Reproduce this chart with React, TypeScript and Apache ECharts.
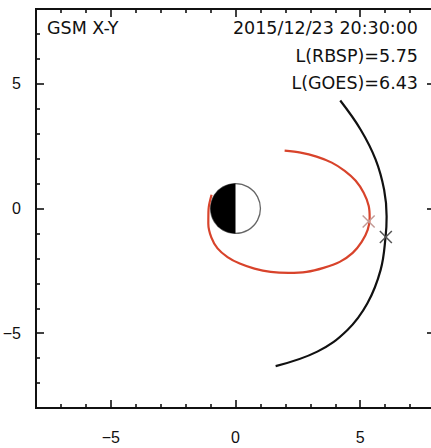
import { useEffect, useRef } from "react";
import * as echarts from "echarts";

// Axis range in Earth radii (GSM X and Y)
const AXIS_MIN = -8;
const AXIS_MAX = 8;
const MAJOR_TICKS = [-5, 0, 5];
const MINOR_TICKS = [-7, -6, -4, -3, -2, -1, 1, 2, 3, 4, 6, 7];

// RBSP orbit trace, GSM [X, Y] in Re
const RBSP_ORBIT: [number, number][] = [
  [1.97, 2.32],
  [2.61, 2.24],
  [3.25, 2.08],
  [3.86, 1.84],
  [4.38, 1.51],
  [4.82, 1.11],
  [5.14, 0.63],
  [5.34, 0.11],
  [5.38, -0.37],
  [5.3, -0.86],
  [5.06, -1.34],
  [4.7, -1.78],
  [4.18, -2.14],
  [3.53, -2.38],
  [2.85, -2.54],
  [2.13, -2.58],
  [1.41, -2.54],
  [0.76, -2.41],
  [0.17, -2.21],
  [-0.32, -1.95],
  [-0.72, -1.6],
  [-0.97, -1.16],
  [-1.09, -0.61],
  [-1.08, -0.02],
  [-0.96, 0.55],
];

// GOES orbit trace, GSM [X, Y] in Re
const GOES_ORBIT: [number, number][] = [
  [4.2, 4.33],
  [5.02, 3.16],
  [5.62, 1.96],
  [5.96, 0.75],
  [6.06, -0.32],
  [6.02, -1.12],
  [5.82, -2.46],
  [5.29, -3.8],
  [4.49, -4.87],
  [3.28, -5.74],
  [1.61, -6.32],
];

// Spacecraft positions at the plotted time
const RBSP_POS: [number, number] = [5.34, -0.52];
const GOES_POS: [number, number] = [6.03, -1.14];

// Earth: centre X, Y and radius (Re)
const EARTH: [number, number, number] = [0, 0, 1];

const TITLE = "GSM X-Y";
const TIME_LABEL = "2015/12/23 20:30:00";
const L_RBSP = 5.75;
const L_GOES = 6.43;

const AXIS_COLOR = "#111";
const TEXT_FONT = '17.5px "DejaVu Sans", sans-serif';
const LABEL_FONT_FAMILY = '"Liberation Sans", Arial, sans-serif';

const fmtTick = (v: number) => (v < 0 ? "\u2212" + Math.abs(v) : String(v));

function makeAxis(
  position: "bottom" | "top" | "left" | "right",
  ticks: number[],
  length: number,
  labels: boolean
) {
  return {
    type: "value",
    position,
    min: AXIS_MIN,
    max: AXIS_MAX,
    splitLine: { show: false },
    axisLine: {
      show: true,
      onZero: false,
      lineStyle: { color: AXIS_COLOR, width: 2 },
    },
    axisTick: {
      show: true,
      inside: true,
      length,
      customValues: ticks,
      lineStyle: { color: AXIS_COLOR, width: 1.6 },
    },
    axisLabel: labels
      ? {
          show: true,
          customValues: MAJOR_TICKS,
          formatter: fmtTick,
          color: "#111",
          fontSize: 16,
          fontFamily: LABEL_FONT_FAMILY,
          margin: position === "bottom" ? 21 : 15,
        }
      : { show: false },
  };
}

export default function App() {
  const ref = useRef<HTMLDivElement>(null);

  useEffect(() => {
    if (!ref.current) return;
    const chart = echarts.init(ref.current, undefined, { renderer: "svg" });

    const cross = (color: string) => (params: any, api: any) => {
      const p = api.coord([api.value(0), api.value(1)]);
      const h = 6;
      const style = { stroke: color, lineWidth: 1.5 };
      return {
        type: "group",
        children: [
          { type: "line", shape: { x1: p[0] - h, y1: p[1] - h, x2: p[0] + h, y2: p[1] + h }, style },
          { type: "line", shape: { x1: p[0] - h, y1: p[1] + h, x2: p[0] + h, y2: p[1] - h }, style },
        ],
      };
    };

    chart.setOption({
      animation: false,
      backgroundColor: "#fff",
      grid: {
        left: 36,
        top: 9,
        width: 399,
        height: 399,
        containLabel: false,
        outerBoundsMode: "none",
      },
      xAxis: [
        makeAxis("bottom", MAJOR_TICKS, 8, true),
        makeAxis("bottom", MINOR_TICKS, 4, false),
        makeAxis("top", MAJOR_TICKS, 8, false),
        makeAxis("top", MINOR_TICKS, 4, false),
      ],
      yAxis: [
        makeAxis("left", MAJOR_TICKS, 8, true),
        makeAxis("left", MINOR_TICKS, 4, false),
        makeAxis("right", MAJOR_TICKS, 8, false),
        makeAxis("right", MINOR_TICKS, 4, false),
      ],
      series: [
        {
          type: "custom",
          name: "Earth",
          z: 1,
          data: [EARTH],
          renderItem: (params: any, api: any) => {
            const c = api.coord([api.value(0), api.value(1)]);
            const r = api.size([api.value(2), api.value(2)])[0];
            return {
              type: "group",
              children: [
                {
                  type: "circle",
                  shape: { cx: c[0], cy: c[1], r },
                  style: { fill: "#fff", stroke: "#666", lineWidth: 1.3 },
                },
                {
                  type: "sector",
                  shape: {
                    cx: c[0],
                    cy: c[1],
                    r0: 0,
                    r,
                    startAngle: Math.PI / 2,
                    endAngle: (Math.PI * 3) / 2,
                    clockwise: true,
                  },
                  style: { fill: "#000" },
                },
              ],
            };
          },
        },
        {
          type: "line",
          name: "RBSP",
          z: 3,
          data: RBSP_ORBIT,
          smooth: 0.3,
          showSymbol: false,
          lineStyle: { color: "#d8432b", width: 2.2 },
        },
        {
          type: "line",
          name: "GOES",
          z: 3,
          data: GOES_ORBIT,
          smooth: 0.4,
          showSymbol: false,
          lineStyle: { color: "#111", width: 2.2 },
        },
        {
          type: "custom",
          name: "RBSP position",
          z: 4,
          data: [RBSP_POS],
          renderItem: cross("#c49a96"),
        },
        {
          type: "custom",
          name: "GOES position",
          z: 4,
          data: [GOES_POS],
          renderItem: cross("#555"),
        },
      ],
      graphic: [
        {
          type: "text",
          x: 47,
          y: 28,
          style: { text: TITLE, font: TEXT_FONT, fill: "#111", verticalAlign: "middle" },
        },
        {
          type: "text",
          x: 418,
          y: 28,
          style: { text: TIME_LABEL, font: TEXT_FONT, fill: "#111", align: "right", verticalAlign: "middle" },
        },
        {
          type: "text",
          x: 418,
          y: 56,
          style: { text: `L(RBSP)=${L_RBSP.toFixed(2)}`, font: TEXT_FONT, fill: "#111", align: "right", verticalAlign: "middle" },
        },
        {
          type: "text",
          x: 418,
          y: 83,
          style: { text: `L(GOES)=${L_GOES.toFixed(2)}`, font: TEXT_FONT, fill: "#111", align: "right", verticalAlign: "middle" },
        },
      ],
    });

    return () => chart.dispose();
  }, []);

  return (
    <div
      ref={ref}
      style={{ position: "absolute", left: 0, top: 0, width: 431, height: 448, overflow: "hidden" }}
    />
  );
}
